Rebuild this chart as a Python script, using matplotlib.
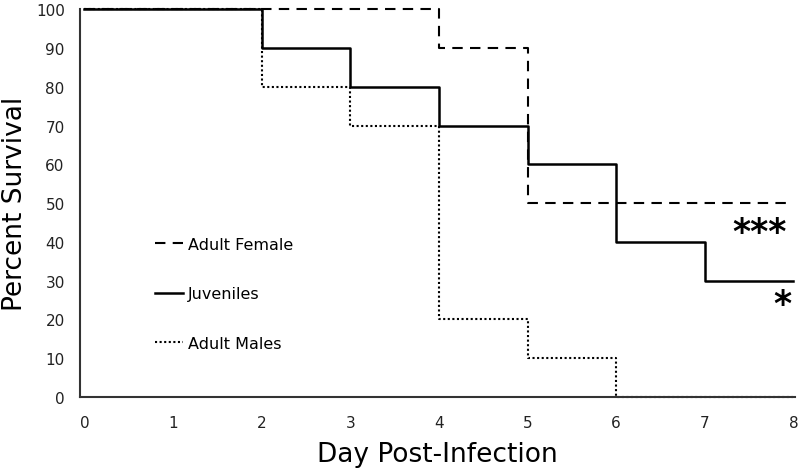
import matplotlib
matplotlib.use("Agg")
import matplotlib.pyplot as plt

days = [0, 1, 2, 3, 4, 5, 6, 7, 8]
female = [100, 100, 100, 100, 90, 50, 50, 50, 50]
juveniles = [100, 100, 90, 80, 70, 60, 40, 30, 30]
males = [100, 100, 80, 70, 20, 10, 0, 0, 0]
labels = ["Adult Female", "Juveniles", "Adult Males"]
xticks = [0, 1, 2, 3, 4, 5, 6, 7, 8]
yticks = [0, 10, 20, 30, 40, 50, 60, 70, 80, 90, 100]

plt.rcParams['font.family'] = ['DejaVu Sans']
fig = plt.figure(figsize=(8, 4.77), dpi=100)
ax = fig.add_axes([0.1, 0.1656, 0.894, 0.813])

ax.step(days, males, where='post', color='black', lw=1.5, linestyle=(0, (1, 1.2)),
        label=labels[2], clip_on=False)
ax.step(days, female, where='post', color='black', lw=1.5, linestyle=(0, (5, 3.5)),
        label=labels[0], clip_on=False)
ax.step(days, juveniles, where='post', color='black', lw=1.8, linestyle='-',
        label=labels[1], clip_on=False)

ax.set_xlim(-0.05, 8.02)
ax.set_ylim(0, 100)
ax.set_xticks(xticks)
ax.set_yticks(yticks)
ax.tick_params(axis='y', length=0, labelsize=11, colors='#222222', pad=11)
ax.tick_params(axis='x', length=0, labelsize=11, colors='#222222', pad=13)
for s in ['top', 'right']:
    ax.spines[s].set_visible(False)
for s in ['left', 'bottom']:
    ax.spines[s].set_linewidth(1.5)
    ax.spines[s].set_color('#333333')

ax.set_xlabel("Day Post-Infection", fontsize=19, labelpad=8)
ax.set_ylabel("Percent Survival", fontsize=19, labelpad=6)

h, l = ax.get_legend_handles_labels()
order = [1, 2, 0]
ax.legend([h[i] for i in order], [l[i] for i in order], loc='upper left',
          bbox_to_anchor=(0.085, 0.45), frameon=False, fontsize=11.5,
          handlelength=1.75, handletextpad=0.3, labelspacing=2.15)

ax.text(7.62, 42.5, "***", fontsize=25, fontweight='bold', ha='center', va='center')
ax.text(7.87, 24.0, "*", fontsize=25, fontweight='bold', ha='center', va='center')

fig.savefig("out.png", dpi=100)
